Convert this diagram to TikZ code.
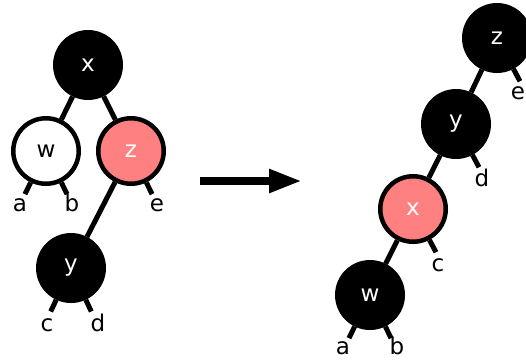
\documentclass[tikz,border=0pt]{standalone}
\usepackage{fontspec}
\setmainfont{DejaVu Sans}
\usetikzlibrary{arrows.meta}
\definecolor{pinkred}{RGB}{255,128,128}
\tikzset{
  rbnode/.style={circle, draw=black, line width=4.5pt, minimum size=65.5pt, inner sep=0pt, font=\fontsize{23}{25}\selectfont},
  blk/.style={rbnode, fill=black, text=white},
  wht/.style={rbnode, fill=white, text=black},
  redn/.style={rbnode, fill=pinkred, text=white},
  edge/.style={line width=5pt},
  leaf/.style={inner sep=0pt, font=\fontsize{23}{25}\selectfont},
  bigarrow/.style={line width=8pt, -{Triangle[length=33pt,width=22pt]}},
}
\begin{document}
\begin{tikzpicture}[x=1pt,y=-1pt]
\useasboundingbox (0,0) rectangle (526,360);
% ---------- left tree ----------
\node[blk] (Lx) at (88,65) {x};
\node[wht] (Lw) at (46,151) {w};
\node[redn] (Lz) at (131,151) {z};
\node[blk] (Ly) at (71,268) {y};
\path (Lw.center) ++(116:48) coordinate (Lwa);
\path (Lw.center) ++(64:48) coordinate (Lwb);
\path (Lz.center) ++(64:48) coordinate (Lze);
\path (Ly.center) ++(115:48) coordinate (Lyc);
\path (Ly.center) ++(65:48) coordinate (Lyd);
\draw[edge] (Lx) -- (Lw);
\draw[edge] (Lx) -- (Lz);
\draw[edge] (Lz) -- (Ly);
\draw[edge] (Lw) -- (Lwa);
\draw[edge] (Lw) -- (Lwb);
\draw[edge] (Lz) -- (Lze);
\draw[edge] (Ly) -- (Lyc);
\draw[edge] (Ly) -- (Lyd);
\node[leaf] (La) at (20,205) {a};
\node[leaf] (Lb) at (72,203) {b};
\node[leaf] (Le) at (157,205) {e};
\node[leaf] (Lc) at (47,325) {c};
\node[leaf] (Ld) at (98,323) {d};
% ---------- arrow ----------
\coordinate (A1) at (200,181);
\coordinate (A2) at (302,181);
\draw[bigarrow] (A1) -- (A2);
% ---------- right tree ----------
\node[blk] (Rz) at (497,38) {z};
\node[blk] (Ry) at (456,124) {y};
\node[redn] (Rx) at (413,209) {x};
\node[blk] (Rw) at (370,295) {w};
\path (Rz.center) ++(62:49) coordinate (Rze);
\path (Ry.center) ++(62:49) coordinate (Ryd);
\path (Rx.center) ++(62:49) coordinate (Rxc);
\path (Rw.center) ++(116:48) coordinate (Rwa);
\path (Rw.center) ++(64:48) coordinate (Rwb);
\draw[edge] (Rz) -- (Ry);
\draw[edge] (Ry) -- (Rx);
\draw[edge] (Rx) -- (Rw);
\draw[edge] (Rz) -- (Rze);
\draw[edge] (Ry) -- (Ryd);
\draw[edge] (Rx) -- (Rxc);
\draw[edge] (Rw) -- (Rwa);
\draw[edge] (Rw) -- (Rwb);
\node[leaf] (Re) at (518,93) {e};
\node[leaf] (Rd) at (482,178) {d};
\node[leaf] (Rc) at (438,265) {c};
\node[leaf] (Ra) at (343,348) {a};
\node[leaf] (Rb) at (397,346) {b};
\end{tikzpicture}
\end{document}
